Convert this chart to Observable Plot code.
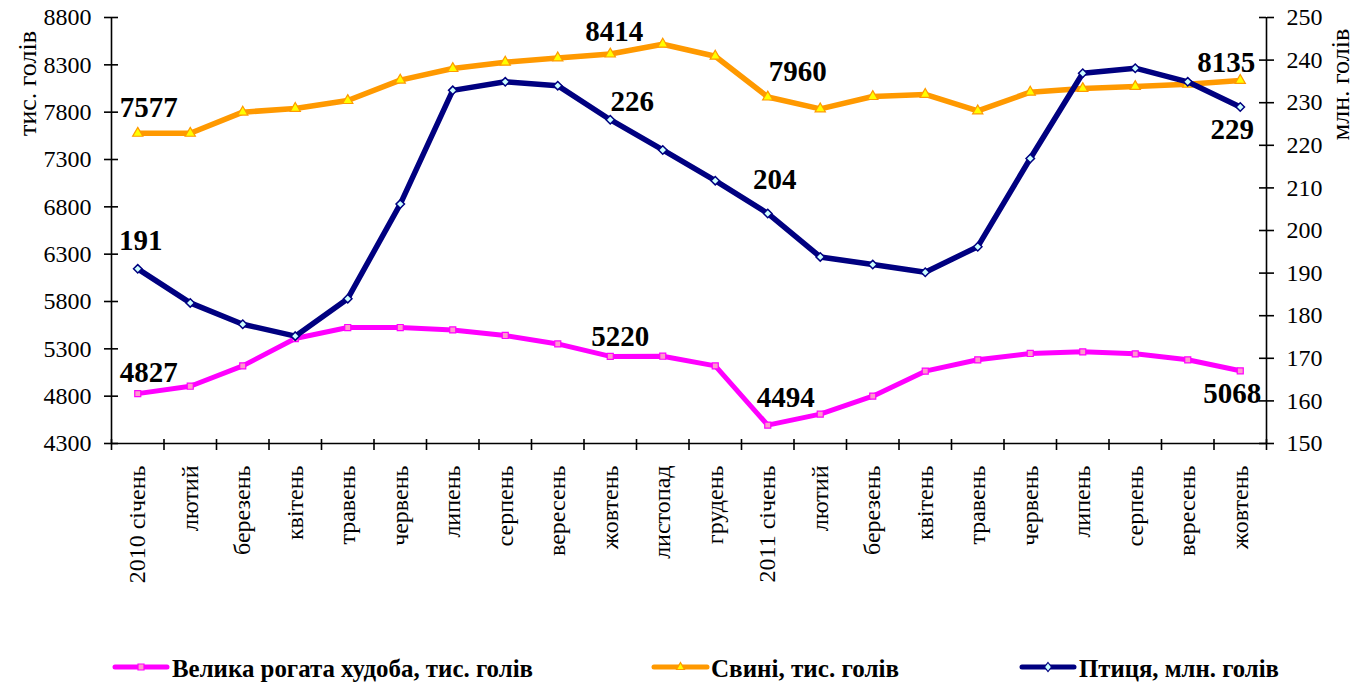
<!DOCTYPE html>
<html>
<head>
<meta charset="utf-8">
<script src="https://cdn.jsdelivr.net/npm/d3@7"></script>
<script src="https://cdn.jsdelivr.net/npm/@observablehq/plot@0.6"></script>
<style>
  html, body { margin: 0; padding: 0; background: #fff; }
  #chart { width: 1368px; }
  svg { display: block; }
</style>
</head>
<body>
<div id="chart"></div>
<script>
// ---- data ----
const months = ["2010 січень","лютий","березень","квітень","травень","червень","липень","серпень","вересень","жовтень","листопад","грудень","2011 січень","лютий","березень","квітень","травень","червень","липень","серпень","вересень","жовтень"];
const cattle = [4827, 4905, 5120, 5409, 5525, 5525, 5500, 5441, 5352, 5220, 5222, 5120, 4494, 4610, 4800, 5064, 5184, 5251, 5268, 5247, 5184, 5068];
const pigs = [7577, 7577, 7800, 7839, 7923, 8138, 8261, 8328, 8373, 8414, 8518, 8391, 7960, 7835, 7965, 7987, 7814, 8011, 8050, 8071, 8095, 8135];
const poultry = [191, 183, 178, 175.2, 184, 206.2, 232.9, 234.9, 234, 226, 218.9, 211.7, 204, 193.8, 192, 190.2, 196.2, 216.9, 236.9, 238.1, 234.9, 229];
const leftTicks = [4300, 4800, 5300, 5800, 6300, 6800, 7300, 7800, 8300, 8800];
const rightTicks = [150, 160, 170, 180, 190, 200, 210, 220, 230, 240, 250];
const seriesNames = ["Велика рогата худоба, тис. голів", "Свині, тис. голів", "Птиця, млн. голів"];
const leftTitle = "тис. голів";
const rightTitle = "млн. голів";

// ---- layout / style ----
const W = 1368, H = 630;
const mL = 111, mR = 102, mT = 17, mB = 187;
const frameW = W - mL - mR, frameH = H - mT - mB;
const font = "'Liberation Serif', 'Times New Roman', serif";
const cMag = "#FF00FF", cOr = "#FF9900", cNavy = "#000080";

// secondary axis mapping (right 150..250 onto left 4300..8800)
const toLeft = v => 4300 + (v - 150) * 45;
const fromLeft = d => 150 + (d - 4300) / 45;

const idx = d3.range(months.length);
const bounds = d3.range(months.length + 1).map(i => i - 0.5);

function label(values, i, dx, dy, map = v => v) {
  return Plot.text([i], {
    x: d => d, y: d => map(values[d]), text: d => String(values[d]),
    dx, dy, fontSize: 29, fontWeight: "bold", fill: "black"
  });
}

const plot = Plot.plot({
  width: W, height: H,
  marginLeft: mL, marginRight: mR, marginTop: mT, marginBottom: mB,
  style: { fontFamily: font, fontSize: "24px", color: "black", background: "white", overflow: "visible" },
  x: { type: "linear", domain: [-0.5, months.length - 0.5] },
  y: { type: "linear", domain: [4300, 8800] },
  marks: [
    // axes lines
    Plot.ruleX([-0.5], { stroke: "black", strokeWidth: 1.6 }),
    Plot.ruleX([months.length - 0.5], { stroke: "black", strokeWidth: 1.6 }),
    Plot.ruleY([4300], { stroke: "black", strokeWidth: 1.6 }),
    // left axis
    Plot.axisY({ anchor: "left", ticks: leftTicks, tickSize: 7, tickPadding: 13, tickFormat: d => String(d), fontSize: 24, strokeWidth: 1.6, label: null }),
    Plot.tickY(leftTicks, { y: d => d, insetRight: frameW - 7, stroke: "black", strokeWidth: 1.6 }),
    // right axis
    Plot.axisY({ anchor: "right", ticks: rightTicks.map(toLeft), tickSize: 7, tickPadding: 13, tickFormat: d => String(Math.round(fromLeft(d))), fontSize: 24, strokeWidth: 1.6, label: null }),
    Plot.tickY(rightTicks.map(toLeft), { y: d => d, insetLeft: frameW - 7, stroke: "black", strokeWidth: 1.6 }),
    // x axis ticks at category boundaries
    Plot.axisX({ ticks: bounds, tickSize: 7, tickFormat: () => "", strokeWidth: 1.6, label: null }),
    Plot.tickX(bounds, { x: d => d, insetTop: frameH - 4, stroke: "black", strokeWidth: 1.6 }),
    // x axis labels
    Plot.axisX({ ticks: idx, tickSize: 0, tickPadding: 22, tickRotate: -90, tickFormat: i => months[i], fontSize: 24, label: null }),
    // axis titles
    Plot.text([leftTitle], { frameAnchor: "top-left", text: d => d, rotate: -90, textAnchor: "middle", lineAnchor: "middle", dx: 27 - mL, dy: 83 - mT, fontSize: 26, fill: "black" }),
    Plot.text([rightTitle], { frameAnchor: "top-right", text: d => d, rotate: -90, textAnchor: "middle", lineAnchor: "middle", dx: 1340 - (W - mR), dy: 84 - mT, fontSize: 26, fill: "black" }),
    // series lines
    Plot.line(idx, { x: i => i, y: i => cattle[i], stroke: cMag, strokeWidth: 5, strokeLinejoin: "round" }),
    Plot.dot(idx, { x: i => i, y: i => cattle[i], symbol: "square", r: 3.4, fill: "#FF99CC", stroke: cMag, strokeWidth: 1.2 }),
    Plot.line(idx, { x: i => i, y: i => pigs[i], stroke: cOr, strokeWidth: 5.5, strokeLinejoin: "round" }),
    Plot.dot(idx, { x: i => i, y: i => pigs[i], symbol: "triangle", r: 3.8, fill: "#FFFF00", stroke: cOr, strokeWidth: 1.2 }),
    Plot.line(idx, { x: i => i, y: i => toLeft(poultry[i]), stroke: cNavy, strokeWidth: 5.5, strokeLinejoin: "round" }),
    Plot.dot(idx, { x: i => i, y: i => toLeft(poultry[i]), symbol: "diamond2", r: 3.8, fill: "#CCFFFF", stroke: cNavy, strokeWidth: 1.5 }),
    // data labels
    label(pigs, 0, 11, -26), label(pigs, 9, 4, -22), label(pigs, 12, 30, -25), label(pigs, 21, -14, -18),
    label(cattle, 0, 11, -21), label(cattle, 9, 10, -20), label(cattle, 12, 18, -27), label(cattle, 21, -8, 23),
    label(poultry, 0, 3, -28, toLeft), label(poultry, 9, 22, -18, toLeft), label(poultry, 12, 7, -34, toLeft), label(poultry, 21, -8, 23, toLeft)
  ]
});
document.getElementById("chart").appendChild(plot);

// ---- legend (below the plot svg) ----
const legendItems = [
  { name: seriesNames[0], color: cMag, x0: 115, x1: 167, tx: 172, tl: 361, sym: "square", fill: "#FF99CC" },
  { name: seriesNames[1], color: cOr, x0: 654, x1: 707, tx: 711, tl: 188, sym: "triangle", fill: "#FFFF00" },
  { name: seriesNames[2], color: cNavy, x0: 1022, x1: 1074, tx: 1079, tl: 200, sym: "diamond", fill: "#CCFFFF" }
];
const ns = "http://www.w3.org/2000/svg";
const lg = document.createElementNS(ns, "svg");
lg.setAttribute("width", W); lg.setAttribute("height", 53);
const ly = 37;
for (const it of legendItems) {
  const ln = document.createElementNS(ns, "line");
  ln.setAttribute("x1", it.x0); ln.setAttribute("x2", it.x1);
  ln.setAttribute("y1", ly); ln.setAttribute("y2", ly);
  ln.setAttribute("stroke", it.color); ln.setAttribute("stroke-width", 5);
  ln.setAttribute("stroke-linecap", "round");
  lg.appendChild(ln);
  const cx = (it.x0 + it.x1) / 2;
  const p = document.createElementNS(ns, "path");
  let d;
  if (it.sym === "square") d = `M${cx-3},${ly-3}h6v6h-6z`;
  else if (it.sym === "triangle") d = `M${cx},${ly-4.5}L${cx+4},${ly+2.5}L${cx-4},${ly+2.5}z`;
  else d = `M${cx},${ly-4.5}L${cx+3.5},${ly}L${cx},${ly+4.5}L${cx-3.5},${ly}z`;
  p.setAttribute("d", d); p.setAttribute("fill", it.fill);
  p.setAttribute("stroke", it.color); p.setAttribute("stroke-width", 1.2);
  lg.appendChild(p);
  const t = document.createElementNS(ns, "text");
  t.setAttribute("x", it.tx); t.setAttribute("y", ly + 10);
  t.setAttribute("font-family", font); t.setAttribute("font-size", 25);
  t.setAttribute("font-weight", "bold");
  t.setAttribute("textLength", it.tl); t.setAttribute("lengthAdjust", "spacingAndGlyphs");
  t.textContent = it.name;
  lg.appendChild(t);
}
document.getElementById("chart").appendChild(lg);
</script>
</body>
</html>
